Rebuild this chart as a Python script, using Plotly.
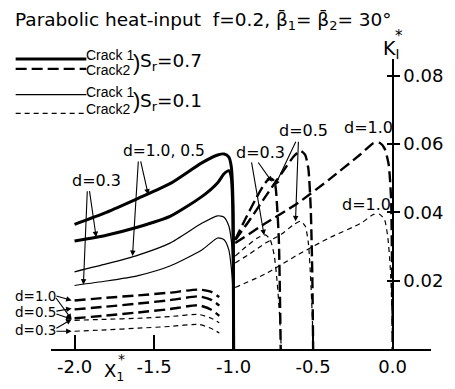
import plotly.graph_objects as go

# ---------------- data ----------------
# Crack 1 (solid) for x1* in [-2, -1]
c1_x = [-2.0, -1.8, -1.6, -1.4, -1.2, -1.1, -1.06, -1.03, -1.015, -1.005, -1.0]
c1_s07_d10_05 = [0.0365, 0.0400, 0.0441, 0.0484, 0.0545, 0.0568, 0.0571, 0.0562, 0.0535, 0.0450, 0.0]
c1_s07_d03 = [0.0316, 0.0333, 0.0357, 0.0388, 0.0446, 0.0487, 0.0513, 0.0522, 0.0504, 0.0410, 0.0]
c1_s01_d10_05 = [0.0226, 0.0249, 0.0275, 0.0310, 0.0368, 0.0390, 0.0386, 0.0360, 0.0320, 0.0250, 0.0]
c1_s01_d03 = [0.0186, 0.0199, 0.0215, 0.0243, 0.0290, 0.0325, 0.0320, 0.0290, 0.0240, 0.0180, 0.0]

# Crack 2 (dashed) low curves for x in [-2, -1]
c2l_x = [-2.0, -1.8, -1.6, -1.4, -1.22, -1.14, -1.09]
c2l_s07_d10 = [0.0142, 0.0150, 0.0157, 0.0165, 0.0174, 0.0167, 0.0152]
c2l_s07_d05 = [0.0116, 0.0124, 0.0133, 0.0143, 0.0154, 0.0144, 0.0127]
c2l_s07_d03 = [0.0090, 0.0098, 0.0107, 0.0117, 0.0128, 0.0115, 0.0097]
c2l_s01_d10 = [0.0084, 0.0087, 0.0090, 0.0095, 0.0101, 0.0090, 0.0077]
c2l_s01_d03 = [0.0052, 0.0056, 0.0061, 0.0066, 0.0072, 0.0060, 0.0047]

# Crack 2 (dashed) for x in [-1, -1+d]
c2_d03_x_s07 = [-0.99, -0.93, -0.86, -0.80, -0.77, -0.745, -0.735, -0.716, -0.704]
c2_d03_s07 = [0.0320, 0.0377, 0.0440, 0.0487, 0.0499, 0.0492, 0.0470, 0.0325, 0.0]
c2_d03_x_s01 = [-0.99, -0.92, -0.85, -0.80, -0.77, -0.745, -0.725, -0.71, -0.70]
c2_d03_s01 = [0.0272, 0.0300, 0.0325, 0.0334, 0.0320, 0.0275, 0.0190, 0.0090, 0.0]

c2_d05_x = [-0.99, -0.9, -0.8, -0.7, -0.62, -0.58, -0.55, -0.53, -0.515, -0.505, -0.5]
c2_d05_s07 = [0.0319, 0.0377, 0.0446, 0.0513, 0.0565, 0.0580, 0.0568, 0.0528, 0.0410, 0.0210, 0.0]
c2_d05_s01 = [0.0252, 0.0278, 0.0310, 0.0336, 0.0365, 0.0374, 0.0360, 0.0310, 0.0200, 0.0090, 0.0]

c2_d10_x_s07 = [-0.99, -0.8, -0.6, -0.4, -0.2, -0.12, -0.08, -0.05, -0.025, -0.01, -0.003, 0.0]
c2_d10_s07 = [0.0310, 0.0368, 0.0426, 0.0496, 0.0571, 0.0603, 0.0603, 0.0586, 0.0540, 0.0440, 0.0200, 0.0]
c2_d10_x_s01 = [-0.99, -0.8, -0.6, -0.4, -0.2, -0.12, -0.08, -0.05, -0.03, -0.015, -0.005, 0.0]
c2_d10_s01 = [0.0180, 0.0220, 0.0275, 0.0325, 0.0368, 0.0394, 0.0394, 0.0377, 0.0325, 0.0238, 0.0120, 0.0]

x_tickvals = [-2.0, -1.5, -1.0, -0.5, 0.0]
x_ticktext = ["-2.0", "-1.5", "-1.0", "-0.5", "0.0"]
y_tickvals = [0.02, 0.04, 0.06, 0.08]
y_ticktext = ["0.02", "0.04", "0.06", "0.08"]

# ---------------- layout constants ----------------
W, H = 455, 389
ML, MR, MT, MB = 51, 17, 59, 37
X_RANGE = [-2.148, 0.241]
Y_RANGE = [0.0, 0.0849]
FONT = "DejaVu Sans"
NARROW = "Liberation Sans"


def pp(px, py):
    """pixel -> domain (== paper here) coordinates"""
    return (px - ML) / (W - ML - MR), (H - MB - py) / (H - MT - MB)


THICK = dict(color="black", width=3)
THIN = dict(color="black", width=1.2)
THICK_D = dict(color="black", width=2.4, dash="11px,5px")
THIN_D = dict(color="black", width=1.2, dash="5px,4px")

fig = go.Figure()


def add(x, y, line):
    fig.add_trace(go.Scatter(x=x, y=y, mode="lines", line=dict(shape="spline", smoothing=0.6, **line),
                             showlegend=False, hoverinfo="skip"))


add(c1_x, c1_s07_d10_05, THICK)
add(c1_x, c1_s07_d03, THICK)
add(c1_x, c1_s01_d10_05, THIN)
add(c1_x, c1_s01_d03, THIN)

add(c2l_x, c2l_s07_d10, THICK_D)
add(c2l_x, c2l_s07_d05, THICK_D)
add(c2l_x, c2l_s07_d03, THICK_D)
add(c2l_x, c2l_s01_d10, THIN_D)
add(c2l_x, c2l_s01_d03, THIN_D)

add(c2_d03_x_s07, c2_d03_s07, THICK_D)
add(c2_d03_x_s01, c2_d03_s01, THIN_D)
add(c2_d05_x, c2_d05_s07, THICK_D)
add(c2_d05_x, c2_d05_s01, THIN_D)
add(c2_d10_x_s07, c2_d10_s07, THICK_D)
add(c2_d10_x_s01, c2_d10_s01, THIN_D)

ypos = (0 - X_RANGE[0]) / (X_RANGE[1] - X_RANGE[0])

annotations = []


def label(text, px, py, size=16, xanchor="center", family=FONT):
    x, y = pp(px, py)
    annotations.append(dict(text=text, x=x, y=y, xref="paper", yref="paper", showarrow=False,
                            xanchor=xanchor, yanchor="middle", borderpad=0,
                            font=dict(family=family, size=size, color="black")))


def arrow(tail_px, tail_py, head_px, head_py):
    hx, hy = pp(head_px, head_py)
    tx, ty = pp(tail_px, tail_py)
    annotations.append(dict(text="", x=hx, y=hy, ax=tx, ay=ty, xref="x domain", yref="y domain",
                            axref="x domain", ayref="y domain", showarrow=True, arrowhead=2, arrowsize=1.0,
                            arrowwidth=1.1, arrowcolor="black", standoff=0, startstandoff=0))


# title
label("Parabolic heat-input  f=0.2, β\u0304<sub>1</sub>= β\u0304<sub>2</sub>= 30°", 13, 21, size=18.5,
      xanchor="left")

# legend
shapes = []


def seg(px0, px1, py, line):
    x0, y0 = pp(px0, py)
    x1, y1 = pp(px1, py)
    shapes.append(dict(type="line", xref="paper", yref="paper", x0=x0, x1=x1, y0=y0, y1=y1, line=line))


seg(15, 87, 59, THICK)
seg(15, 87, 69, THICK_D)
seg(15, 87, 95, THIN)
seg(15, 87, 114, THIN_D)
label("Crack 1", 86, 55, size=14, xanchor="left", family=NARROW)
label("Crack2", 86, 70, size=14, xanchor="left", family=NARROW)
label("Crack 1", 86, 92, size=14, xanchor="left", family=NARROW)
label("Crack2", 86, 110, size=14, xanchor="left", family=NARROW)
label(")", 133, 63, size=22, xanchor="left", family=NARROW)
label(")", 133, 101, size=22, xanchor="left", family=NARROW)
label("S<sub>r</sub>=0.7", 141, 62, size=18.5, xanchor="left")
label("S<sub>r</sub>=0.1", 141, 102, size=18.5, xanchor="left")

# axis titles
label("K<sub>I</sub>", 397, 49, size=19)
label("*", 405, 36, size=15)
label("X<sub>1</sub>", 115, 375, size=18)
label("*", 123, 362, size=14)

# curve labels
label("d=0.3", 97, 182, size=16)
arrow(90, 191, 97, 239)
arrow(88, 191, 84, 287)
label("d=1.0, 0.5", 166, 152, size=15.5)
arrow(142, 161, 150, 196)
arrow(140, 161, 134, 258)

label("d=1.0", 35, 298, size=13.5)
label("d=0.5", 35, 315, size=13.5)
label("d=0.3", 35, 333, size=13.5)
arrow(55, 298, 72, 303)
arrow(55, 299, 72, 322)
arrow(55, 314, 72, 311)
arrow(55, 316, 72, 322)
arrow(55, 332, 72, 322)
arrow(55, 334, 72, 334)

label("d=0.3", 264, 153, size=16)
arrow(255, 162, 268, 237)
arrow(261, 162, 276, 183)
label("d=0.5", 308, 131, size=16)
arrow(301, 141, 279, 187)
arrow(303, 141, 300, 223)
label("d=1.0", 374, 128, size=16)
label("d=1.0", 372, 206, size=16)

fig.update_layout(
    width=W, height=H, margin=dict(l=ML, r=MR, t=MT, b=MB),
    paper_bgcolor="white", plot_bgcolor="white",
    annotations=annotations, shapes=shapes,
    xaxis=dict(range=X_RANGE, tickvals=x_tickvals, ticktext=x_ticktext, ticks="inside", ticklen=14,
               tickwidth=1.5, tickcolor="black", showgrid=False, zeroline=False, showline=True,
               linecolor="black", linewidth=2, tickfont=dict(family=FONT, size=18, color="black")),
    yaxis=dict(range=Y_RANGE, tickvals=y_tickvals, ticktext=y_ticktext, side="right", anchor="free",
               position=ypos, ticks="outside", ticklen=6, tickwidth=1.5, tickcolor="black", showgrid=False,
               zeroline=False, showline=True, linecolor="black", linewidth=2,
               tickfont=dict(family=FONT, size=18, color="black")),
    yaxis2=dict(range=Y_RANGE, tickvals=y_tickvals, overlaying="y", side="left", anchor="free",
                position=ypos, ticks="outside", ticklen=6, tickwidth=1.5, tickcolor="black",
                showticklabels=False, showgrid=False, zeroline=False, showline=False),
)
# dummy trace to activate yaxis2 ticks
fig.add_trace(go.Scatter(x=[None], y=[None], yaxis="y2", showlegend=False, hoverinfo="skip"))

fig.write_html("out.html")
